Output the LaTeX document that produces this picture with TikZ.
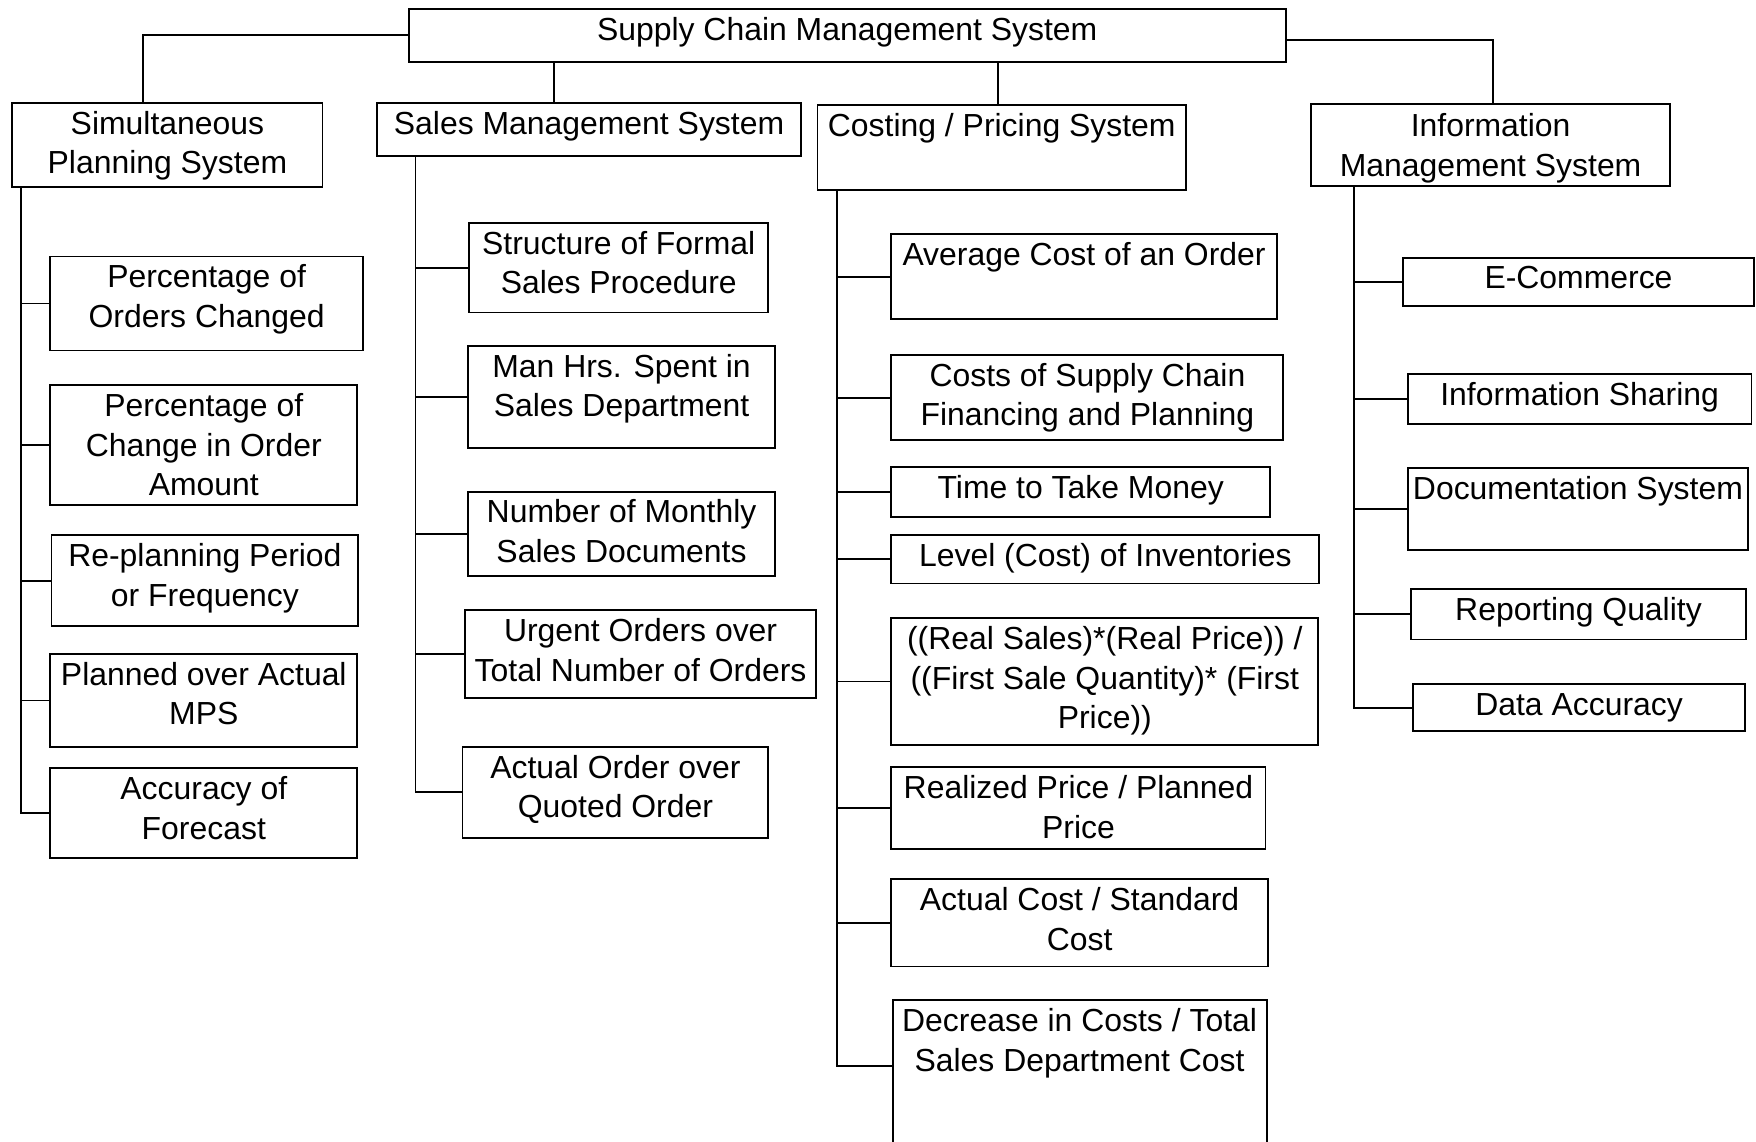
\documentclass[tikz,border=0pt]{standalone}
\usepackage{fontspec}
\setmainfont{Liberation Sans}
\usetikzlibrary{calc}

\tikzset{
  boxsh/.style={draw=black, line width=1.7pt, fill=white, inner sep=0pt, outer sep=0pt},
  boxtxt/.style={inner sep=0pt, align=center, text=black,
    font=\fontsize{28.5}{35.5}\selectfont, execute at begin node=\strut},
  wire/.style={draw=black, line width=1.7pt, line cap=rect},
}

% box with its label set near the top edge:
% [#1 label drop] #2 name, #3 left, #4 top, #5 right, #6 bottom, #7 text
\newcommand\ibox[7][3]{%
  \node[boxsh, anchor=north west, minimum width={#5-#3}, minimum height={#6-#4}] (#2) at (#3,#4) {};
  \node[boxtxt, anchor=north] (#2-t) at ($(#2.north)+(0,#1)$) {#7};
}

\begin{document}
\begin{tikzpicture}[x=1pt, y=-1pt]
\clip (0,0) rectangle (1568,1019);
\fill[white] (0,0) rectangle (1568,1019);

% root and the four systems
\ibox{root}{365}{8}{1148}{55}{Supply Chain Management System}
\ibox[7]{sim}{11}{92}{288}{167}{Simultaneous\\Planning System}
\ibox{sales}{337}{92}{715}{139}{Sales Management System}
\ibox{cost}{730}{94}{1059}{170}{Costing / Pricing System}
\ibox[8]{info}{1171}{93}{1491}{166}{Information\\Management System}

\draw[wire] (root.west) -| ($(sim.north west)+(117,0)$);
\draw[wire] ($(root.south west)+(130,0)$) -- ($(sales.north west)+(158,0)$);
\draw[wire] ($(root.south west)+(526,0)$) -- ($(cost.north west)+(161,0)$);
\draw[wire] ($(root.east)+(0,4.5)$) -| ($(info.north west)+(162,0)$);

% simultaneous planning measures
\ibox[7]{p1}{45}{229}{324}{313}{Percentage of\\Orders Changed}
\ibox[7]{p2}{45}{344}{319}{451}{Percentage of\\Change in Order\\Amount}
\ibox[7]{p3}{46}{478}{320}{559}{Re-planning Period\\or Frequency}
\ibox[7]{p4}{45}{584}{319}{667}{Planned over Actual\\MPS}
\ibox[7]{p5}{45}{686}{319}{766}{Accuracy of\\Forecast}
\foreach \c in {p1,p2,p3,p4,p5}
  \draw[wire] ($(sim.south west)+(8,0)$) |- (\c.west);

% sales management measures
\ibox[7]{s1}{419}{199}{686}{279}{Structure of Formal\\Sales Procedure}
\ibox[7]{s2}{418}{309}{692}{400}{Man Hrs. Spent in\\Sales Department}
\ibox[7]{s3}{418}{439}{692}{514}{Number of Monthly\\Sales Documents}
\ibox[7]{s4}{415}{545}{729}{623}{Urgent Orders over\\Total Number of Orders}
\ibox[7]{s5}{413}{667}{686}{748}{Actual Order over\\Quoted Order}
\foreach \c in {s1,s2,s3,s4,s5}
  \draw[wire] ($(sales.south west)+(34,0)$) |- (\c.west);

% costing / pricing measures
\ibox{c1}{796}{209}{1140}{285}{Average Cost of an Order}
\ibox[7]{c2}{796}{317}{1146}{393}{Costs of Supply Chain\\Financing and Planning}
\ibox{c3}{796}{417}{1134}{462}{Time to Take Money}
\ibox{c4}{796}{478}{1178}{521}{Level (Cost) of Inventories}
\ibox[7]{c5}{796}{552}{1177}{665}{((Real Sales)*(Real Price)) /\\((First Sale Quantity)* (First\\Price))}
\ibox[7]{c6}{796}{685}{1130}{758}{Realized Price / Planned\\Price}
\ibox[7]{c7}{796}{785}{1132}{863}{Actual Cost / Standard\\Cost}
\ibox[7]{c8}{797}{893}{1131}{1060}{Decrease in Costs / Total\\Sales Department Cost}
\foreach \c in {c1,c2,c3,c4,c5,c6,c7}
  \draw[wire] ($(cost.south west)+(17,0)$) |- (\c.west);
\draw[wire] ($(cost.south west)+(17,0)$) |- ($(c8.north west)+(0,59)$);

% information management measures
\ibox{i1}{1253}{230}{1566}{273}{E-Commerce}
\ibox{i2}{1257}{334}{1564}{379}{Information Sharing}
\ibox{i3}{1257}{418}{1561}{491}{Documentation System}
\ibox{i4}{1260}{526}{1559}{571}{Reporting Quality}
\ibox{i5}{1262}{611}{1558}{653}{Data Accuracy}
\foreach \c in {i1,i2,i3,i4,i5}
  \draw[wire] ($(info.south west)+(38,0)$) |- (\c.west);
\end{tikzpicture}
\end{document}
